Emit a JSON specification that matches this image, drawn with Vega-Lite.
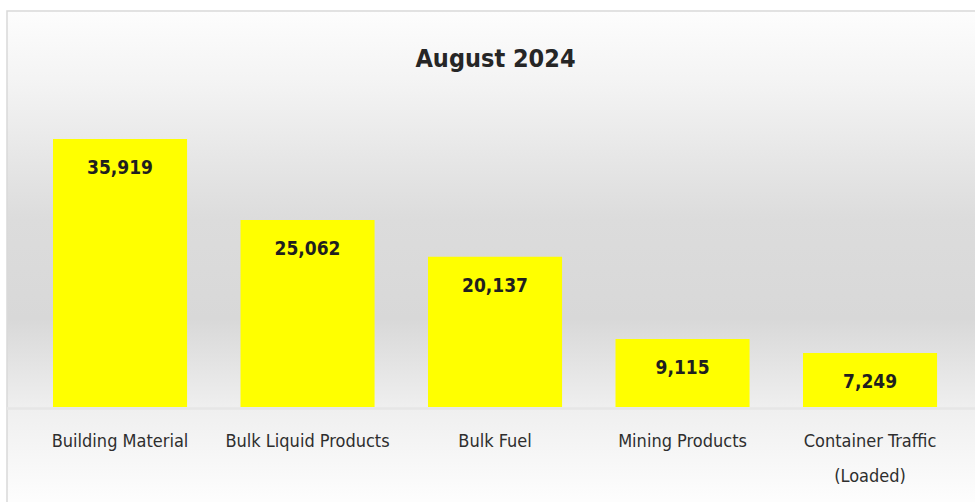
{
  "$schema": "https://vega.github.io/schema/vega-lite/v6.json",
  "width": 975,
  "height": 496,
  "autosize": {"type": "none"},
  "padding": {"left": 7, "top": 11, "right": 0, "bottom": 0},
  "background": "#ffffff",
  "title": {
    "text": "August 2024",
    "anchor": "middle",
    "orient": "top",
    "offset": 0,
    "dy": 81,
    "dx": 1,
    "baseline": "alphabetic",
    "font": "DejaVu Sans Condensed, DejaVu Sans, sans-serif",
    "fontSize": 25,
    "fontWeight": "bold",
    "color": "#262626"
  },
  "config": {
    "view": {
      "stroke": "#d9d9d9",
      "strokeWidth": 1.5,
      "fill": {
        "gradient": "linear",
        "x1": 0, "y1": 0, "x2": 0, "y2": 1,
        "stops": [
          {"offset": 0, "color": "#fdfdfd"},
          {"offset": 0.15, "color": "#f3f3f3"},
          {"offset": 0.42, "color": "#dcdcdc"},
          {"offset": 0.62, "color": "#d8d8d8"},
          {"offset": 0.8, "color": "#efefef"},
          {"offset": 1, "color": "#fefefe"}
        ]
      }
    },
    "axis": {"disable": true}
  },
  "data": {
    "values": [
      {"cargo": "Building Material", "label": "Building Material", "tons": 35919},
      {"cargo": "Bulk Liquid Products", "label": "Bulk Liquid Products", "tons": 25062},
      {"cargo": "Bulk Fuel", "label": "Bulk Fuel", "tons": 20137},
      {"cargo": "Mining Products", "label": "Mining Products", "tons": 9115},
      {"cargo": "Container Traffic (Loaded)", "label": "Container Traffic\n(Loaded)", "tons": 7249}
    ]
  },
  "encoding": {
    "x": {
      "field": "cargo",
      "type": "nominal",
      "sort": null,
      "scale": {"paddingInner": 0.285, "paddingOuter": 0.2425, "align": 0.5058},
      "axis": null
    }
  },
  "layer": [
    {
      "mark": {"type": "rule", "color": "#e6e6e6", "strokeWidth": 1.5},
      "encoding": {
        "x": null,
        "y": {"datum": -200, "type": "quantitative"}
      }
    },
    {
      "mark": {"type": "bar", "color": "#ffff00"},
      "encoding": {
        "y": {
          "field": "tons",
          "type": "quantitative",
          "scale": {"domain": [-13403, 53074], "nice": false, "zero": false},
          "axis": null
        },
        "y2": {"datum": 0}
      }
    },
    {
      "mark": {
        "type": "text",
        "baseline": "middle",
        "dy": 29,
        "font": "DejaVu Sans Condensed, DejaVu Sans, sans-serif",
        "fontSize": 19,
        "fontWeight": "bold",
        "color": "#1f1f1f"
      },
      "encoding": {
        "y": {"field": "tons", "type": "quantitative"},
        "text": {"field": "tons", "type": "quantitative", "format": ",d"}
      }
    },
    {
      "mark": {
        "type": "text",
        "baseline": "middle",
        "lineBreak": "\n",
        "lineHeight": 35,
        "font": "DejaVu Sans Condensed, DejaVu Sans, sans-serif",
        "fontSize": 18,
        "color": "#2e2e2e"
      },
      "encoding": {
        "y": {"datum": -4691, "type": "quantitative"},
        "text": {"field": "label"}
      }
    }
  ]
}
